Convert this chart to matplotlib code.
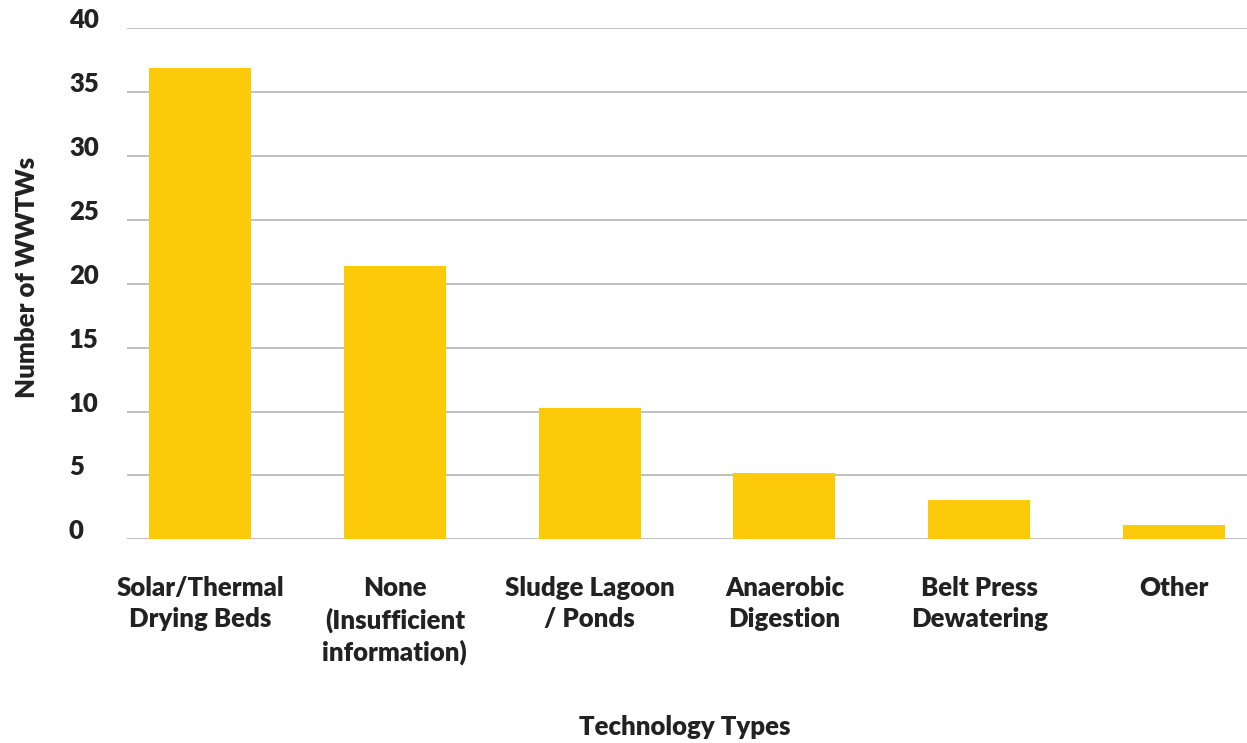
import matplotlib
matplotlib.use("Agg")
import matplotlib.pyplot as plt

# Sludge treatment technologies reported across wastewater treatment works
categories = [
    "Solar/Thermal\nDrying Beds",
    "None\n(Insufficient\ninformation)",
    "Sludge Lagoon\n/ Ponds",
    "Anaerobic\nDigestion",
    "Belt Press\nDewatering",
    "Other",
]
counts = [36.9, 21.4, 10.3, 5.2, 3.1, 1.1]
y_ticks = [0, 5, 10, 15, 20, 25, 30, 35, 40]

BAR_COLOR = "#FCCA09"
GRID_COLOR = "#BBBBBB"
TEXT_COLOR = "#222222"
WEIGHT = "heavy"

plt.rcParams["font.family"] = ["Lato", "DejaVu Sans"]

W, H = 1247, 743
fig = plt.figure(figsize=(W / 100, H / 100), dpi=100)
ax = fig.add_axes([127 / W, 1 - 539.3 / H, 1 - 127 / W, (539.3 - 28.3) / H])

x = list(range(len(categories)))
ax.bar(x, counts, width=0.524, color=BAR_COLOR, zorder=2)

ax.set_xlim(-0.375, 5.375)
ax.set_ylim(0, 40)
ax.set_yticks(y_ticks)
ax.set_yticklabels([str(t) for t in y_ticks])
ax.set_xticks(x)
ax.set_xticklabels(categories, linespacing=1.35)

ax.grid(axis="y", color=GRID_COLOR, linewidth=1.3, zorder=0)
ax.grid(axis="x", visible=False)
for s in ax.spines.values():
    s.set_visible(False)

ax.tick_params(axis="y", length=0, pad=41.8, labelsize=18.5, labelcolor=TEXT_COLOR)
ax.tick_params(axis="x", length=0, pad=26.2, labelsize=18.5, labelcolor=TEXT_COLOR)
for lbl in ax.get_yticklabels():
    lbl.set_horizontalalignment("left")
    lbl.set_verticalalignment("baseline")
    lbl.set_fontweight(WEIGHT)
for lbl in ax.get_xticklabels():
    lbl.set_fontweight(WEIGHT)

fig.text(27 / W, 1 - 277 / H, "Number of WWTWs", rotation=90, ha="center", va="center",
         fontsize=18.5, fontweight=WEIGHT, color=TEXT_COLOR)
fig.text(685 / W, 1 - 727 / H, "Technology Types", ha="center", va="center",
         fontsize=18.5, fontweight=WEIGHT, color=TEXT_COLOR)

fig.savefig("out.png", dpi=100, facecolor="white")
